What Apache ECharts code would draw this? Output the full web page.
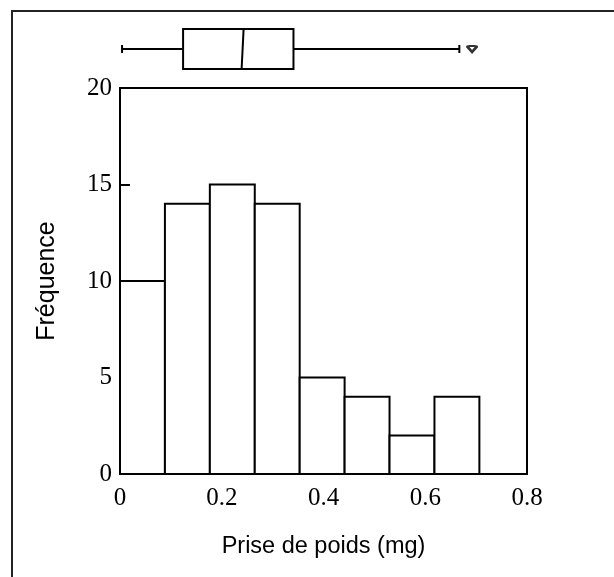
<!DOCTYPE html>
<html>
<head>
<meta charset="utf-8">
<script src="https://cdn.jsdelivr.net/npm/echarts@6/dist/echarts.min.js"></script>
<style>html,body{margin:0;padding:0;background:#fff;}#c{width:614px;height:577px;}</style>
</head>
<body>
<div id="c"></div>
<script>
// Histogram bin edges (mg) and counts
var binEdges = [0.0, 0.0883, 0.1766, 0.2649, 0.3532, 0.4415, 0.5298, 0.6181, 0.7064];
var counts = [10, 14, 15, 14, 5, 4, 2, 4];
// Box plot summary: [whisker low, Q1, median, Q3, whisker high]
var boxStats = [0.004, 0.124, 0.241, 0.341, 0.667];
var outliers = [0.692];
var xTicks = [0, 0.2, 0.4, 0.6, 0.8];
var yTicks = [0, 5, 10, 15, 20];

var histData = counts.map(function (c, i) { return [binEdges[i], binEdges[i + 1], c]; });

var chart = echarts.init(document.getElementById('c'), null, { renderer: 'canvas' });
var serif = 'Liberation Serif';
var sans = 'Liberation Sans';

chart.setOption({
  animation: false,
  backgroundColor: '#fff',
  graphic: [{
    type: 'polyline',
    shape: { points: [[12, 577], [12, 11], [614, 11]] },
    style: { stroke: '#222', lineWidth: 2, fill: null },
    silent: true
  }],
  grid: [
    { left: 120, top: 88, width: 407, height: 386, show: true, borderColor: '#000', borderWidth: 2, backgroundColor: 'transparent' },
    { left: 120, top: 29, width: 407, height: 40 }
  ],
  xAxis: [{
    gridIndex: 0, type: 'value', min: xTicks[0], max: xTicks[xTicks.length - 1], interval: 0.2,
    axisLine: { show: true, lineStyle: { color: '#000', width: 2 } },
    axisTick: { show: true, inside: true, length: 10, lineStyle: { color: '#000', width: 2 } },
    axisLabel: { fontFamily: serif, fontSize: 25, color: '#000', margin: 12 },
    splitLine: { show: false },
    name: 'Prise de poids (mg)', nameLocation: 'middle', nameGap: 61,
    nameTextStyle: { fontFamily: sans, fontSize: 23.5, color: '#000' }
  }, {
    gridIndex: 1, type: 'value', min: 0, max: 0.8, show: false
  }],
  yAxis: [{
    gridIndex: 0, type: 'value', min: yTicks[0], max: yTicks[yTicks.length - 1], interval: 5,
    axisLine: { show: true, lineStyle: { color: '#000', width: 2 } },
    axisTick: { show: true, inside: true, length: 10, lineStyle: { color: '#000', width: 2 } },
    axisLabel: { fontFamily: serif, fontSize: 25, color: '#000', margin: 8 },
    splitLine: { show: false },
    name: 'Fréquence', nameLocation: 'middle', nameGap: 60,
    nameTextStyle: { fontFamily: sans, fontSize: 25, color: '#000' }
  }, {
    gridIndex: 1, type: 'value', min: 0, max: 1, show: false
  }],
  series: [{
    type: 'custom',
    xAxisIndex: 0, yAxisIndex: 0,
    data: histData,
    renderItem: function (params, api) {
      var p0 = api.coord([api.value(0), 0]);
      var p1 = api.coord([api.value(1), api.value(2)]);
      return {
        type: 'rect',
        shape: { x: p0[0], y: p1[1], width: p1[0] - p0[0], height: p0[1] - p1[1] },
        style: { fill: '#fff', stroke: '#000', lineWidth: 2 }
      };
    }
  }, {
    type: 'custom',
    xAxisIndex: 1, yAxisIndex: 1,
    data: [boxStats],
    renderItem: function (params, api) {
      var lo = api.coord([api.value(0), 0.5]);
      var q1 = api.coord([api.value(1), 1]);
      var md = api.coord([api.value(2), 0.5]);
      var q3 = api.coord([api.value(3), 0]);
      var hi = api.coord([api.value(4), 0.5]);
      var yc = lo[1], yt = q1[1], yb = q3[1];
      var cap = 4;
      var st = { stroke: '#000', lineWidth: 2, fill: null };
      return {
        type: 'group',
        children: [
          { type: 'line', shape: { x1: lo[0], y1: yc, x2: q1[0], y2: yc }, style: st },
          { type: 'line', shape: { x1: q3[0], y1: yc, x2: hi[0], y2: yc }, style: st },
          { type: 'line', shape: { x1: lo[0], y1: yc - cap, x2: lo[0], y2: yc + cap }, style: st },
          { type: 'line', shape: { x1: hi[0], y1: yc - cap, x2: hi[0], y2: yc + cap }, style: st },
          { type: 'rect', shape: { x: q1[0], y: yt, width: q3[0] - q1[0], height: yb - yt }, style: { stroke: '#000', lineWidth: 2, fill: '#fff' } },
          { type: 'line', shape: { x1: md[0] + 1, y1: yt, x2: md[0] - 1, y2: yb }, style: st }
        ]
      };
    }
  }, {
    type: 'scatter',
    xAxisIndex: 1, yAxisIndex: 1,
    data: outliers.map(function (v) { return [v, 0.5]; }),
    symbol: 'path://M0,1 Q0,0 2,0 L8,0 Q10,0 10,1 L5,7 Z',
    symbolSize: [9, 6],
    itemStyle: { color: '#fff', borderColor: '#000', borderWidth: 2.5 }
  }]
});
</script>
</body>
</html>
